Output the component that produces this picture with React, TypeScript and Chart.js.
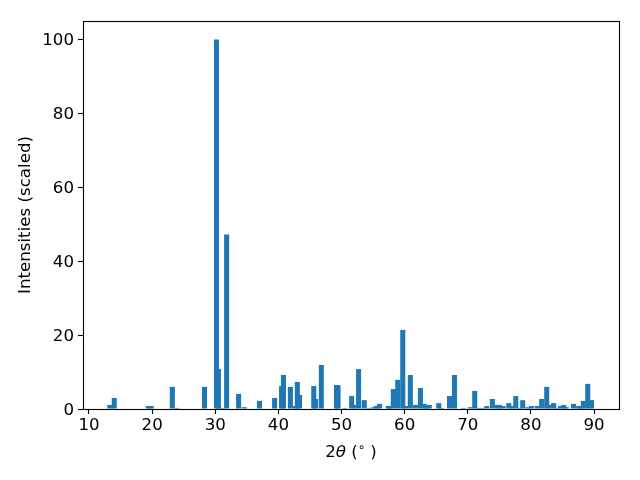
import React, { useEffect, useRef } from "react";
import { Chart, registerables } from "chart.js";

Chart.register(...registerables);

const twoTheta: number[] = [
  13.3, 14.0, 19.4, 19.85, 23.2, 23.9, 28.3, 30.2, 30.5, 31.05, 31.8, 33.7, 34.6,
  37.0, 39.4, 40.5, 40.8, 41.9, 42.7, 43.0, 43.35, 45.6, 45.9, 46.8, 49.2, 49.45,
  50.5, 51.6, 52.1, 52.7, 53.6, 54.4, 55.15, 55.5, 56.0, 57.4, 57.6, 58.2, 58.9,
  59.7, 60.2, 60.9, 61.7, 62.5, 63.1, 63.5, 63.9, 65.4, 65.8, 67.1, 67.9, 69.3,
  70.4, 71.1, 71.7, 72.3, 73.0, 73.9, 74.7, 75.0, 75.6, 76.5, 77.0, 77.6, 78.2,
  78.7, 79.5, 80.1, 81.0, 81.7, 82.5, 82.9, 83.6, 84.1, 84.7, 85.2, 85.6, 86.75,
  87.55, 87.85, 88.3, 89.0, 89.6,
];
const intensities: number[] = [
  1.1, 3.0, 0.8, 0.8, 6.0, 0.3, 6.0, 100, 10.8, 0.3, 47.2, 4.1, 0.5,
  2.2, 3.0, 6.2, 9.2, 6.0, 0.8, 7.3, 3.8, 6.2, 2.7, 11.9, 6.5, 6.4,
  0.3, 3.5, 1.1, 10.8, 2.4, 0.3, 0.5, 0.8, 1.4, 0.8, 0.8, 5.4, 7.9,
  21.4, 0.8, 9.2, 1.1, 5.7, 1.4, 0.8, 1.1, 1.6, 0.3, 3.5, 9.2, 0.3,
  0.5, 4.9, 0.3, 0.3, 0.8, 2.7, 1.1, 1.1, 0.8, 1.6, 0.8, 3.5, 0.3,
  2.4, 0.5, 0.8, 0.8, 2.7, 6.0, 1.1, 1.6, 0.3, 0.8, 1.1, 0.5, 1.4,
  0.8, 0.8, 2.2, 6.8, 2.4,
];
const xTicks: number[] = [10, 20, 30, 40, 50, 60, 70, 80, 90];
const yTicks: number[] = [0, 20, 40, 60, 80, 100];
const yLabel = "Intensities (scaled)";

const FONT = "'DejaVu Sans', sans-serif";
const FS = 16.67;

const framePlugin = {
  id: "frameAndXTitle",
  afterDraw(chart: any) {
    const { ctx, chartArea } = chart;
    ctx.save();
    ctx.strokeStyle = "#000";
    ctx.lineWidth = 1.1;
    ctx.strokeRect(
      Math.round(chartArea.left) + 0.5,
      Math.round(chartArea.top) + 0.5,
      Math.round(chartArea.right - chartArea.left),
      Math.round(chartArea.bottom - chartArea.top)
    );
    const parts = [
      { t: "2", font: `${FS}px ${FONT}`, dy: 0 },
      { t: "θ", font: `italic ${FS}px ${FONT}`, dy: 0 },
      { t: " (", font: `${FS}px ${FONT}`, dy: 0 },
      { t: "∘", font: `${FS * 0.7}px ${FONT}`, dy: -6 },
      { t: " )", font: `${FS}px ${FONT}`, dy: 0 },
    ];
    let total = 0;
    const widths = parts.map((p) => {
      ctx.font = p.font;
      const w = ctx.measureText(p.t).width;
      total += w;
      return w;
    });
    const cx = (chartArea.left + chartArea.right) / 2;
    let x = cx - total / 2;
    const baseline = 457;
    ctx.fillStyle = "#000";
    ctx.textBaseline = "alphabetic";
    ctx.textAlign = "left";
    parts.forEach((p, i) => {
      ctx.font = p.font;
      ctx.fillText(p.t, x, baseline + p.dy);
      x += widths[i];
    });
    ctx.restore();
  },
};

export default function App() {
  const ref = useRef<HTMLCanvasElement | null>(null);
  useEffect(() => {
    if (!ref.current) return;
    const data = twoTheta.map((x, i) => ({ x, y: intensities[i] }));
    const chart = new Chart(ref.current, {
      type: "bar",
      data: {
        datasets: [
          {
            data: data as any,
            backgroundColor: "#1f77b4",
            borderWidth: 0,
            barThickness: 5.05,
            inflateAmount: 0,
          } as any,
        ],
      },
      options: {
        animation: false,
        responsive: false,
        events: [],
        layout: { padding: { top: 21, right: 21, left: 0, bottom: 0 } },
        plugins: { legend: { display: false }, tooltip: { enabled: false } },
        scales: {
          x: {
            type: "linear",
            offset: false,
            min: 9.05,
            max: 93.95,
            afterFit: (s: any) => {
              s.height = 71;
            },
            afterBuildTicks: (s: any) => {
              s.ticks = xTicks.map((v) => ({ value: v }));
            },
            grid: {
              offset: false,
              drawOnChartArea: false,
              drawTicks: true,
              tickLength: 5,
              tickColor: "#000",
              tickWidth: 1.1,
            },
            border: { display: false },
            ticks: {
              color: "#000",
              font: { family: FONT, size: FS },
              padding: 2,
              maxRotation: 0,
              autoSkip: false,
            },
          },
          y: {
            type: "linear",
            min: 0,
            max: 105,
            afterFit: (s: any) => {
              s.width = 83;
            },
            afterBuildTicks: (s: any) => {
              s.ticks = yTicks.map((v) => ({ value: v }));
            },
            grid: {
              drawOnChartArea: false,
              drawTicks: true,
              tickLength: 5,
              tickColor: "#000",
              tickWidth: 1.1,
            },
            border: { display: false },
            title: {
              display: true,
              text: yLabel,
              color: "#000",
              font: { family: FONT, size: FS },
              padding: { top: 16, bottom: 0 },
            },
            ticks: {
              color: "#000",
              font: { family: FONT, size: FS },
              padding: 4,
              labelOffset: 1.5,
              autoSkip: false,
            },
          },
        },
      },
      plugins: [framePlugin],
    });
    return () => chart.destroy();
  }, []);
  return (
    <div style={{ position: "absolute", left: 0, top: 0, width: 640, height: 480, background: "#fff" }}>
      <canvas ref={ref} width={640} height={480} />
    </div>
  );
}
